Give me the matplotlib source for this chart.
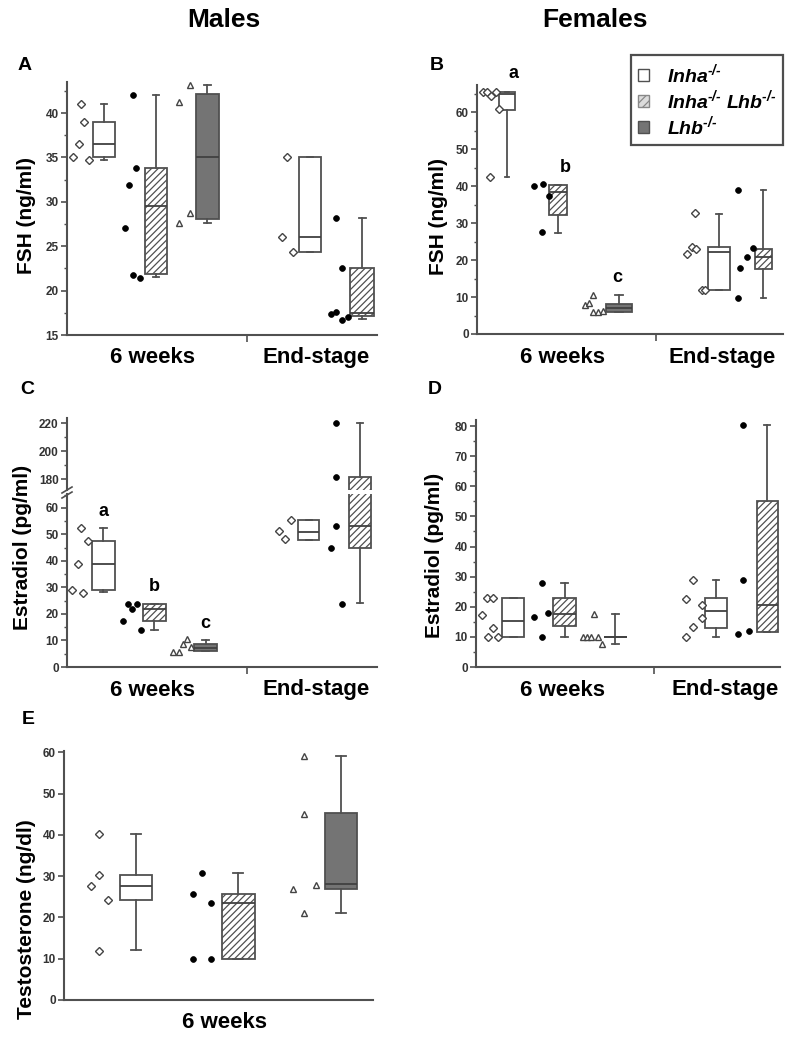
import matplotlib.pyplot as plt
from matplotlib.patches import Patch
from matplotlib.lines import Line2D
from matplotlib.ticker import MultipleLocator

plt.rcParams['font.family'] = ['Liberation Sans', 'DejaVu Sans']
plt.rcParams['font.weight'] = 'bold'
plt.rcParams['mathtext.fontset'] = 'custom'
plt.rcParams['mathtext.rm'] = 'Liberation Sans:italic:bold'
plt.rcParams['mathtext.it'] = 'Liberation Sans:italic:bold'
plt.rcParams['mathtext.bf'] = 'Liberation Sans:italic:bold'
plt.rcParams['hatch.linewidth'] = 0.9
plt.rcParams['hatch.color'] = '#666666'

# ---------------- data ----------------
genotypes = ['inha', 'dko', 'lhb', 'inha', 'dko']
legend_labels = [r'Inha$^{\text{-/-}}$', r'Inha$^{\text{-/-}}$ Lhb$^{\text{-/-}}$',
                 r'Lhb$^{\text{-/-}}$']
group_labels = ['6 weeks', 'End-stage']

# A: males, FSH (ng/ml)
a_points = [[35.0, 41.05, 39.0, 36.5, 34.7],
            [42.0, 33.8, 31.9, 27.1, 21.8, 21.45],
            [43.2, 41.3, 28.7, 27.6],
            [35.0, 26.0, 24.3],
            [28.2, 22.5, 17.4, 17.6, 16.7, 17.0]]
a_q1 = [35.0, 21.9, 28.1, 24.3, 17.1]
a_med = [36.5, 29.5, 35.0, 26.0, 17.5]
a_q3 = [39.0, 33.8, 42.1, 35.0, 22.5]
a_lo = [34.7, 21.5, 27.6, 24.3, 16.8]
a_hi = [41.0, 42.0, 43.2, 35.0, 28.2]

# B: females, FSH (ng/ml)
b_points = [[65.6, 65.6, 64.4, 65.6, 60.9, 42.4],
            [40.1, 40.5, 37.4, 27.5],
            [7.85, 8.3, 10.56, 5.87, 5.87, 6.3],
            [21.7, 23.5, 23.0, 32.7, 11.9, 11.9],
            [39.0, 17.8, 20.8, 23.2, 9.7]]
b_q1 = [60.7, 32.3, 6.0, 11.9, 17.6]
b_med = [65.0, 38.5, 7.1, 22.3, 20.9]
b_q3 = [65.4, 40.25, 8.0, 23.5, 23.1]
b_lo = [42.4, 27.4, 5.9, 11.9, 9.7]
b_hi = [65.6, 40.25, 10.5, 32.6, 39.0]
b_letters = ['a', 'b', 'c']

# C: males, Estradiol (pg/ml), broken axis
c_points = [[29.2, 39.0, 52.2, 28.05, 47.4],
            [17.2, 23.6, 22.0, 23.6, 13.8],
            [5.66, 5.66, 8.8, 10.4, 7.5],
            [51.3, 48.2, 55.3],
            [220.0, 181.9, 53.2, 45.0, 23.9]]
c_q1 = [29.2, 17.2, 6.1, 48.0, 45.0]
c_med = [38.9, 22.0, 7.2, 51.0, 53.3]
c_q3 = [47.4, 23.6, 8.6, 55.5, 182.0]
c_lo = [28.1, 13.8, 6.0, 48.0, 24.0]
c_hi = [52.2, 23.6, 10.1, 55.5, 220.0]
c_letters = ['a', 'b', 'c']

# D: females, Estradiol (pg/ml)
d_points = [[17.4, 22.9, 22.9, 10.0, 13.0, 10.0],
            [16.6, 27.9, 17.95, 10.0],
            [10.0, 10.0, 10.0, 17.5, 10.0, 7.76],
            [10.0, 13.3, 22.7, 28.8, 16.4, 20.5],
            [80.3, 28.8, 11.1, 11.9]]
d_q1 = [10.0, 13.5, 10.0, 13.0, 11.5]
d_med = [15.2, 17.5, 10.0, 18.5, 20.5]
d_q3 = [23.0, 23.0, 10.0, 23.0, 55.0]
d_lo = [10.0, 10.0, 7.76, 10.0, 11.5]
d_hi = [23.0, 28.0, 17.5, 28.8, 80.5]

# E: males, Testosterone (ng/dl), 6 weeks only
e_genotypes = ['inha', 'dko', 'lhb']
e_points = [[27.5, 40.2, 30.3, 24.3, 11.9],
            [30.8, 25.7, 23.45, 9.9, 9.9],
            [59.0, 45.1, 26.9, 27.9, 21.0]]
e_q1 = [24.3, 9.9, 27.0]
e_med = [27.5, 23.4, 28.0]
e_q3 = [30.3, 25.7, 45.2]
e_lo = [12.0, 9.9, 21.0]
e_hi = [40.2, 30.8, 59.0]

# ---------------- layout (x in axes fraction) ----------------
a_pos = [0.119, 0.287, 0.452, 0.784, 0.952]
a_wid = [0.071, 0.074, 0.074, 0.070, 0.075]
a_px = [[0.018, 0.045, 0.054, 0.038, 0.072],
        [0.212, 0.223, 0.201, 0.187, 0.212, 0.235],
        [0.397, 0.362, 0.397, 0.361],
        [0.711, 0.695, 0.730],
        [0.868, 0.886, 0.852, 0.868, 0.886, 0.907]]
b_pos = [0.098, 0.265, 0.464, 0.791, 0.936]
b_wid = [0.052, 0.060, 0.087, 0.071, 0.055]
b_px = [[0.019, 0.032, 0.045, 0.061, 0.072, 0.042],
        [0.186, 0.215, 0.234, 0.214],
        [0.353, 0.367, 0.380, 0.378, 0.394, 0.411],
        [0.685, 0.702, 0.716, 0.712, 0.734, 0.745],
        [0.852, 0.859, 0.881, 0.903, 0.852]]
b_letter_xy = [(0.119, 70.4), (0.288, 45.2), (0.458, 15.2)]
c_pos = [0.117, 0.282, 0.447, 0.780, 0.945]
c_wid = [0.075, 0.072, 0.072, 0.068, 0.069]
c_px = [[0.015, 0.037, 0.045, 0.053, 0.069],
        [0.182, 0.196, 0.211, 0.225, 0.238],
        [0.343, 0.361, 0.373, 0.386, 0.399],
        [0.685, 0.703, 0.723],
        [0.868, 0.868, 0.868, 0.852, 0.886]]
c_letter_xy = [(0.117, 58.5), (0.283, 30.2), (0.445, 16.4)]
d_pos = [0.123, 0.292, 0.458, 0.789, 0.958]
d_wid = [0.072, 0.075, 0.075, 0.071, 0.069]
d_px = [[0.019, 0.037, 0.057, 0.038, 0.057, 0.073],
        [0.191, 0.216, 0.238, 0.216],
        [0.351, 0.364, 0.377, 0.388, 0.402, 0.413],
        [0.691, 0.715, 0.691, 0.715, 0.742, 0.742],
        [0.879, 0.879, 0.863, 0.899]]
e_pos = [0.233, 0.564, 0.897]
e_wid = [0.105, 0.108, 0.105]
e_px = [[0.086, 0.114, 0.114, 0.143, 0.114],
        [0.446, 0.416, 0.475, 0.416, 0.475],
        [0.777, 0.777, 0.742, 0.816, 0.777]]

W, H = 800, 1046
LINE = '#505050'
box_face = {'inha': 'white', 'dko': 'white', 'lhb': '#747474'}
box_hatch = {'inha': None, 'dko': '/////', 'lhb': None}
marker_style = {
    'inha': dict(marker='D', ms=3.6, mfc='white', mec='#444444', mew=1.0),
    'dko': dict(marker='o', ms=4.2, mfc='black', mec='black', mew=0.5),
    'lhb': dict(marker='^', ms=4.2, mfc='white', mec='#444444', mew=1.0),
}


def rect(x0, y0, x1, y1):
    return [x0 / W, 1 - y1 / H, (x1 - x0) / W, (y1 - y0) / H]


def ftext(x, y, s, **kw):
    fig.text(x / W, 1 - y / H, s, ha='center', va='center', **kw)


def style_axis(ax, ylim, major, minor=None, divider=None):
    ax.set_xlim(0, 1)
    ax.set_ylim(*ylim)
    for side in ['top', 'right']:
        ax.spines[side].set_visible(False)
    for side in ['left', 'bottom']:
        ax.spines[side].set_color(LINE)
        ax.spines[side].set_linewidth(1.5)
    ax.yaxis.set_major_locator(MultipleLocator(major))
    if minor:
        ax.yaxis.set_minor_locator(MultipleLocator(minor))
    ax.tick_params(axis='y', which='major', direction='out', length=4, width=1.2,
                   color=LINE, labelsize=8.5, labelcolor='#333333', pad=2)
    ax.tick_params(axis='y', which='minor', direction='out', length=2.5, width=1.0,
                   color=LINE)
    if divider is not None:
        ax.set_xticks([divider])
        ax.set_xticklabels([''])
        ax.tick_params(axis='x', direction='out', length=5, width=1.2, color=LINE)
    else:
        ax.set_xticks([])


def draw_boxes(ax, groups, q1, med, q3, lo, hi, pos, wid):
    stats = [dict(q1=a, med=b, q3=c, whislo=d, whishi=e, fliers=[])
             for a, b, c, d, e in zip(q1, med, q3, lo, hi)]
    bp = ax.bxp(stats, positions=pos, widths=wid, patch_artist=True,
                showfliers=False, manage_ticks=False,
                capwidths=[w * 0.3 for w in wid],
                boxprops=dict(edgecolor=LINE, linewidth=1.3),
                whiskerprops=dict(color=LINE, linewidth=1.3),
                capprops=dict(color=LINE, linewidth=1.3),
                medianprops=dict(color='#404040', linewidth=1.3))
    for patch, g in zip(bp['boxes'], groups):
        patch.set_facecolor(box_face[g])
        if box_hatch[g]:
            patch.set_hatch(box_hatch[g])


def draw_points(ax, groups, points, xs):
    for g, vals, x in zip(groups, points, xs):
        ax.plot(x, vals, ls='none', clip_on=False, zorder=4, **marker_style[g])


fig = plt.figure(figsize=(8, 10.46), dpi=100)

# ---- A ----
axA = fig.add_axes(rect(67, 82, 377, 335))
style_axis(axA, (15, 43.5), 5, 2.5, divider=0.58)
draw_boxes(axA, genotypes, a_q1, a_med, a_q3, a_lo, a_hi, a_pos, a_wid)
draw_points(axA, genotypes, a_points, a_px)

# ---- B ----
axB = fig.add_axes(rect(477, 85, 783, 334))
style_axis(axB, (0, 67.4), 10, 5, divider=0.585)
draw_boxes(axB, genotypes, b_q1, b_med, b_q3, b_lo, b_hi, b_pos, b_wid)
draw_points(axB, genotypes, b_points, b_px)
for s, (x, y) in zip(b_letters, b_letter_xy):
    axB.text(x, y, s, ha='center', va='center', fontsize=13, clip_on=False)

# ---- C (broken y axis) ----
axC = fig.add_axes(rect(67, 494, 377, 667))
axCu = fig.add_axes(rect(67, 418, 377, 490))
style_axis(axC, (0, 65.2), 10, 5, divider=0.58)
style_axis(axCu, (172.4, 223.8), 20, 10)
axCu.spines['bottom'].set_visible(False)
for ax in (axC, axCu):
    draw_boxes(ax, genotypes, c_q1, c_med, c_q3, c_lo, c_hi, c_pos, c_wid)
draw_points(axC, genotypes, [[v for v in p if v < 66] for p in c_points],
            [[x for x, v in zip(xs, p) if v < 66] for xs, p in zip(c_px, c_points)])
draw_points(axCu, genotypes, [[v for v in p if v > 170] for p in c_points],
            [[x for x, v in zip(xs, p) if v > 170] for xs, p in zip(c_px, c_points)])
for s, (x, y) in zip(c_letters, c_letter_xy):
    axC.text(x, y, s, ha='center', va='center', fontsize=13, clip_on=False)
for dy in (0, 5):
    fig.add_artist(Line2D([62 / W, 72 / W], [1 - (493 + dy) / H, 1 - (487 + dy) / H],
                          color=LINE, lw=1.2))

# ---- D ----
axD = fig.add_axes(rect(476, 420, 780, 667))
style_axis(axD, (0, 82), 10, 5, divider=0.586)
draw_boxes(axD, genotypes, d_q1, d_med, d_q3, d_lo, d_hi, d_pos, d_wid)
draw_points(axD, genotypes, d_points, d_px)

# ---- E ----
axE = fig.add_axes(rect(64, 751, 373, 1000))
style_axis(axE, (0, 60.3), 10)
draw_boxes(axE, e_genotypes, e_q1, e_med, e_q3, e_lo, e_hi, e_pos, e_wid)
draw_points(axE, e_genotypes, e_points, e_px)

# ---- text ----
ftext(224, 20, 'Males', fontsize=19)
ftext(595, 20, 'Females', fontsize=19)
for x, y, s in [(25, 65, 'A'), (437, 65, 'B'), (27, 390, 'C'), (435, 390, 'D'), (28, 720, 'E')]:
    ftext(x, y, s, fontsize=14)
ftext(152, 357, group_labels[0], fontsize=16)
ftext(316, 357, group_labels[1], fontsize=16)
ftext(562, 357, group_labels[0], fontsize=16)
ftext(722, 357, group_labels[1], fontsize=16)
ftext(152, 690, group_labels[0], fontsize=16)
ftext(316, 690, group_labels[1], fontsize=16)
ftext(562, 690, group_labels[0], fontsize=16)
ftext(725, 690, group_labels[1], fontsize=16)
ftext(225, 1023, group_labels[0], fontsize=16)
ftext(27, 215, 'FSH (ng/ml)', fontsize=15, rotation=90)
ftext(438, 217, 'FSH (ng/ml)', fontsize=15, rotation=90)
ftext(23, 547, 'Estradiol (pg/ml)', fontsize=15, rotation=90)
ftext(435, 555, 'Estradiol (pg/ml)', fontsize=15, rotation=90)
ftext(27, 919, 'Testosterone (ng/dl)', fontsize=15, rotation=90)

# ---- legend ----
handles = [Patch(facecolor='white', edgecolor=LINE, lw=1.0),
           Patch(facecolor='#dcdcdc', edgecolor='#888888', hatch='////', lw=1.0),
           Patch(facecolor='#747474', edgecolor=LINE, lw=1.0)]
leg = fig.legend(handles, legend_labels, loc='upper right',
                 bbox_to_anchor=(783 / W, 1 - 55 / H), fancybox=False,
                 prop=dict(style='italic', weight='bold', size=14),
                 handlelength=0.6, handleheight=0.6, handletextpad=0.9,
                 labelspacing=0.12, borderpad=0.35, borderaxespad=0)
leg.get_frame().set_edgecolor('#222222')
leg.get_frame().set_linewidth(1.6)

fig.savefig('out.png', dpi=100)
